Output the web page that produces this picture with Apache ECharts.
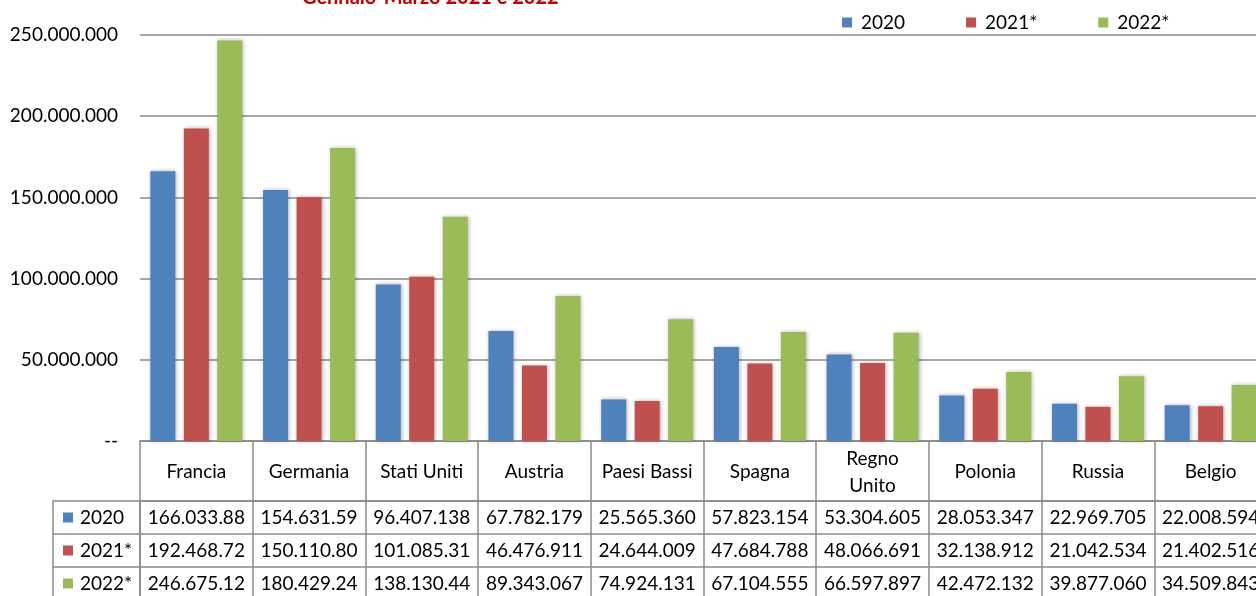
<!DOCTYPE html>
<html><head><meta charset="utf-8">
<script src="https://cdn.jsdelivr.net/npm/echarts@6/dist/echarts.min.js"></script>
<style>html,body{margin:0;padding:0;background:#fff}#c{width:1256px;height:596px}</style>
</head><body><div id="c"></div>
<script>
const categories = ['Francia','Germania','Stati Uniti','Austria','Paesi Bassi','Spagna','Regno\nUnito','Polonia','Russia','Belgio'];
const seriesNames = ['2020','2021*','2022*'];
const values2020 = [166033880,154631590,96407138,67782179,25565360,57823154,53304605,28053347,22969705,22008594];
const values2021 = [192468720,150110800,101085310,46476911,24644009,47684788,48066691,32138912,21042534,21402516];
const values2022 = [246675120,180429240,138130440,89343067,74924131,67104555,66597897,42472132,39877060,34509843];
const yMax = 250000000, yStep = 50000000;
const titleText = 'Gennaio-Marzo 2021 e 2022';
const colors = ['#4f81bd','#c0504d','#9bbb59'];
const allValues = [values2020, values2021, values2022];

const FONT = 'Lato, "Noto Sans", sans-serif';
const LINE = '#8a8a8a';
function fmt(v){ if (v === 0) return '--'; return String(v).replace(/\B(?=(\d{3})+(?!\d))/g, '.'); }
function cellText(v){ return fmt(v).slice(0, 10); }

const cellData = [];
allValues.forEach((arr, r) => arr.forEach((v, c) => cellData.push([c, r])));

const chart = echarts.init(document.getElementById('c'), null, {renderer:'canvas'});
const rich = {t:{fontSize:19, fontFamily:FONT, color:'#000', padding:[0,0,0,7]}};
colors.forEach((c,i)=>{ rich['q'+i] = {width:10, height:10, backgroundColor:c}; });

chart.setOption({
  animation:false,
  backgroundColor:'#fff',
  title:{text:titleText, left:302, top:-12, padding:0,
    textStyle:{color:'#c00000', fontWeight:'bold', fontSize:20, fontFamily:FONT}},
  legend:{data:seriesNames, left:842, top:13, padding:0, itemWidth:10, itemHeight:10, icon:'rect', itemGap:61,
    itemStyle:{shadowBlur:0, shadowColor:'transparent'},
    textStyle:{fontSize:19, fontFamily:FONT, color:'#000', padding:[0,0,0,4]}},
  grid:[
    {left:140, right:-11, top:35, height:406, outerBoundsMode:'none', containLabel:false},
    {left:140, right:-11, top:501, height:99, outerBoundsMode:'none', containLabel:false}
  ],
  xAxis:[
    {type:'category', gridIndex:0, data:categories,
      axisLine:{show:true, lineStyle:{color:LINE, width:1.5}},
      axisTick:{show:true, length:60, lineStyle:{color:LINE, width:1.5}},
      axisLabel:{interval:0, fontSize:19, fontFamily:FONT, color:'#000', margin:31, verticalAlign:'middle', lineHeight:27, align:'center'},
      splitLine:{show:false}},
    {type:'category', gridIndex:1, data:categories, position:'top',
      axisLine:{show:true, lineStyle:{color:LINE, width:1.5}},
      axisTick:{show:false}, axisLabel:{show:false},
      splitLine:{show:true, interval:0, lineStyle:{color:LINE, width:1.5}}}
  ],
  yAxis:[
    {type:'value', gridIndex:0, min:0, max:yMax, interval:yStep,
      axisLine:{show:false}, axisTick:{show:false},
      axisLabel:{formatter:fmt, fontSize:19, fontFamily:FONT, color:'#000', margin:22},
      splitLine:{show:true, lineStyle:{color:LINE, width:1.5}}},
    {type:'category', gridIndex:1, data:seriesNames, inverse:true,
      axisLine:{show:true, lineStyle:{color:LINE, width:1.5}},
      axisTick:{show:true, length:87, lineStyle:{color:LINE, width:1.5}},
      axisLabel:{align:'left', margin:77, formatter:(v,i)=>'{q'+i+'|}{t|'+v+'}', rich:rich},
      splitLine:{show:true, interval:0, lineStyle:{color:LINE, width:1.5}}},
    {type:'category', gridIndex:1, data:seriesNames, inverse:true, position:'left', offset:87,
      axisLine:{show:true, lineStyle:{color:LINE, width:1.5}},
      axisTick:{show:false}, axisLabel:{show:false}, splitLine:{show:false}}
  ],
  series:[
    ...seriesNames.map((name,i)=>({
      name:name, type:'bar', xAxisIndex:0, yAxisIndex:0, data:allValues[i],
      barWidth:25, barGap:'34%',
      itemStyle:{color:colors[i], shadowBlur:4, shadowColor:'rgba(0,0,0,0.3)', shadowOffsetX:1, shadowOffsetY:0}
    })),
    {type:'custom', xAxisIndex:1, yAxisIndex:1, data:cellData, silent:true,
      renderItem:(params, api)=>{
        const idx = params.dataIndex;
        const r = Math.floor(idx / categories.length), c = idx % categories.length;
        const p = api.coord([api.value(0), api.value(1)]);
        return {type:'text', x:p[0], y:p[1],
          style:{text:cellText(allValues[r][c]), fill:'#000', font:'19px ' + FONT, align:'center', verticalAlign:'middle'}};
      }}
  ]
});
</script></body></html>
